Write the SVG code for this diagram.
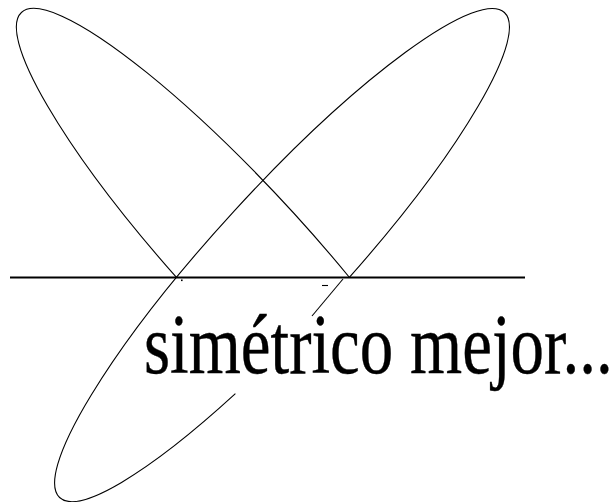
<svg xmlns="http://www.w3.org/2000/svg" width="615" height="502" viewBox="0 0 615 502">
  <style>
    .curve { fill: none; stroke: #000; stroke-width: 1.1; }
    .axis { fill: none; stroke: #000; stroke-width: 1.8; }
    .label { font-family: "Liberation Serif", "Times New Roman", serif; font-size: 67px; fill: #000; stroke: #000; stroke-width: 0.3; }
  </style>
  <rect width="615" height="502" fill="#fff"/>
  <g id="right-ellipse">
    <path class="curve" d="M 235.4 393.7 A 329 65 -47.5 0 1 59.6 497.5 A 329 65 -47.5 0 1 234.1 211.1 A 329 65 -47.5 0 1 504.4 12.5 A 329 65 -47.5 0 1 349.1 277.7"/>
  </g>
  <g id="left-ellipse">
    <path class="curve" d="M 176.7 277.7 A 329 65 47.5 0 1 21.4 12.5 A 329 65 47.5 0 1 349.1 277.0"/>
  </g>
  <g id="connectors">
    <path class="axis" d="M 10 277.5 H 525"/>
    <path class="curve" d="M 343 279 L 312 316"/>
    <path class="curve" d="M 322 285.5 H 328"/>
    <rect x="181" y="279.5" width="1.6" height="1.6" fill="#000"/>
  </g>
  <g id="label">
    <text class="label" transform="translate(144,373) scale(1,1.266)" x="0" y="0">simétrico mejor...</text>
  </g>
</svg>
